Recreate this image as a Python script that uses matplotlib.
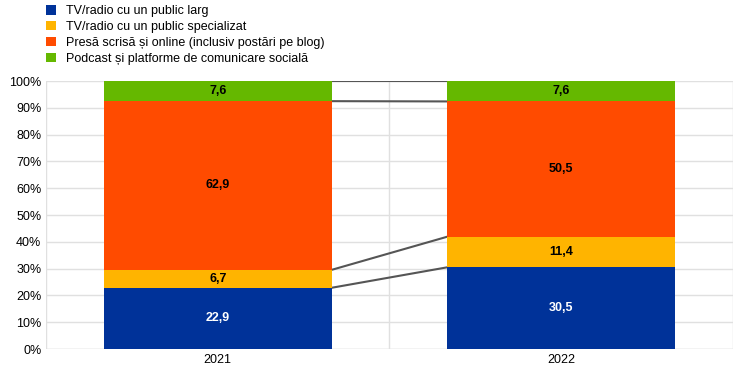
import numpy as np
import matplotlib
matplotlib.use("Agg")
import matplotlib.pyplot as plt
from matplotlib.ticker import FuncFormatter

plt.rcParams['font.family'] = ['Liberation Sans', 'DejaVu Sans']

years = ['2021', '2022']
series = ['TV/radio cu un public larg',
          'TV/radio cu un public specializat',
          'Presă scrisă și online (inclusiv postări pe blog)',
          'Podcast și platforme de comunicare socială']
values = [
    [22.9, 30.5],
    [6.7, 11.4],
    [62.9, 50.5],
    [7.6, 7.6],
]
colors = ['#003299', '#ffb400', '#ff4b00', '#65b800']
label_colors = ['white', 'black', 'black', 'black']

fig = plt.figure(figsize=(7.44, 3.77), dpi=100)
ax = fig.add_axes([0.062, 0.074, 0.923, 0.711])

x = np.arange(len(years))
width = 0.665
bottom = np.zeros(len(years))
tops = []
for vals, col, lc, name in zip(values, colors, label_colors, series):
    vals = np.array(vals)
    ax.bar(x, vals, width, bottom=bottom, color=col, label=name, zorder=3)
    for xi, b, v in zip(x, bottom, vals):
        ax.text(xi, b + v / 2, f'{v:.1f}'.replace('.', ','), ha='center', va='center',
                color=lc, fontsize=9, fontweight='bold', zorder=4)
    bottom = bottom + vals
    tops.append(bottom.copy())

# connector lines between bars
for t in tops:
    t0, t1 = min(t[0], 100), min(t[1], 100)
    ax.plot([x[0] + width / 2, x[1] - width / 2], [t0, t1], color='#555555', lw=1.5, zorder=2)

ax.set_xlim(-0.5, 1.5)
ax.set_ylim(0, 100)
ax.set_yticks(np.arange(0, 101, 10))
ax.yaxis.set_major_formatter(FuncFormatter(lambda v, p: f'{v:.0f}%'))
ax.set_xticks(x)
ax.set_xticklabels(years)
ax.set_xticks([-0.5, 0.5, 1.5], minor=True)
ax.grid(axis='y', color='#e0e0e0', lw=1, zorder=0)
ax.grid(axis='x', which='minor', color='#e0e0e0', lw=1, zorder=0)
ax.tick_params(axis='both', which='both', length=0, labelsize=9)
for s in ax.spines.values():
    s.set_visible(False)
ax.axhline(0, color='#e0e0e0', lw=1, zorder=1)

handles, labels = ax.get_legend_handles_labels()
fig.legend(handles, labels, loc='upper left', bbox_to_anchor=(0.055, 1.0), frameon=False,
           fontsize=9, handlelength=0.8, handleheight=0.8, labelspacing=0.3, handletextpad=0.8,
           borderaxespad=0)

fig.savefig('out.png', dpi=100)
